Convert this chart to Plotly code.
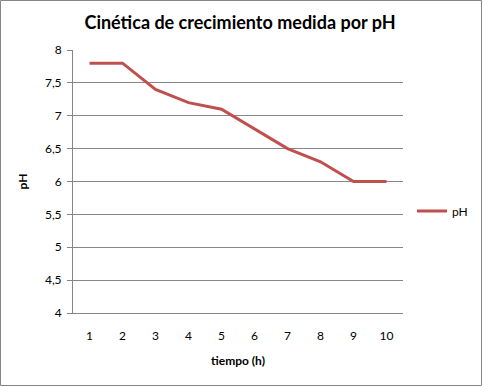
import plotly.graph_objects as go

tiempo = [1, 2, 3, 4, 5, 6, 7, 8, 9, 10]
ph = [7.8, 7.8, 7.4, 7.2, 7.1, 6.8, 6.5, 6.3, 6.0, 6.0]
y_ticks = [4, 4.5, 5, 5.5, 6, 6.5, 7, 7.5, 8]

W, H = 483, 387
L, R, T, B = 73, 80, 50, 74
pw, ph_ = W - L - R, H - T - B

fig = go.Figure()
fig.add_trace(go.Scatter(x=tiempo, y=ph, mode="lines", name="pH",
                         line=dict(color="#C0504D", width=3)))

grid = "#878787"
fig.update_layout(
    width=W, height=H, autosize=False,
    margin=dict(l=L, r=R, t=T, b=B, autoexpand=False),
    paper_bgcolor="white", plot_bgcolor="white",
    separators=",.",
    font=dict(family="Lato, Open Sans, sans-serif", size=12, color="#000000"),
    title=dict(text="<b>Cinética de crecimiento medida por pH</b>",
               x=240 / W, xanchor="center", y=1 - 23 / H, yanchor="middle",
               font=dict(size=18, color="#000000")),
    xaxis=dict(range=[0.5, 10.5], tickvals=tiempo, showgrid=False,
               showline=True, linecolor=grid, linewidth=1, ticks="",
               ticklabelstandoff=12, zeroline=False,
               title=dict(text="<b>tiempo (h)</b>", font=dict(size=12), standoff=14)),
    yaxis=dict(range=[4, 8], tickvals=y_ticks, showgrid=True, gridcolor=grid,
               gridwidth=1, showline=True, linecolor=grid, linewidth=1,
               ticks="outside", ticklen=5, tickcolor=grid, zeroline=False,
               ticklabelstandoff=3,
               title=dict(text="<b>pH</b>", font=dict(size=12), standoff=14)),
    legend=dict(xref="container", yref="container", x=412 / W, xanchor="left",
                y=1 - 211 / H, yanchor="middle",
                font=dict(size=12), bgcolor="rgba(0,0,0,0)"),
    showlegend=True,
)

fig.add_shape(type="rect", xref="paper", yref="paper",
              x0=(-L + 0.5) / pw, x1=(pw + R - 1.5) / pw,
              y0=(-B + 1.5) / ph_, y1=(ph_ + T - 0.5) / ph_,
              line=dict(color="#868686", width=1), layer="below")

fig.write_html("out.html",
               config={"responsive": False, "displayModeBar": False},
               default_width=f"{W}px", default_height=f"{H}px",
               post_script="document.body.style.margin='0';document.body.style.overflow='hidden';")
